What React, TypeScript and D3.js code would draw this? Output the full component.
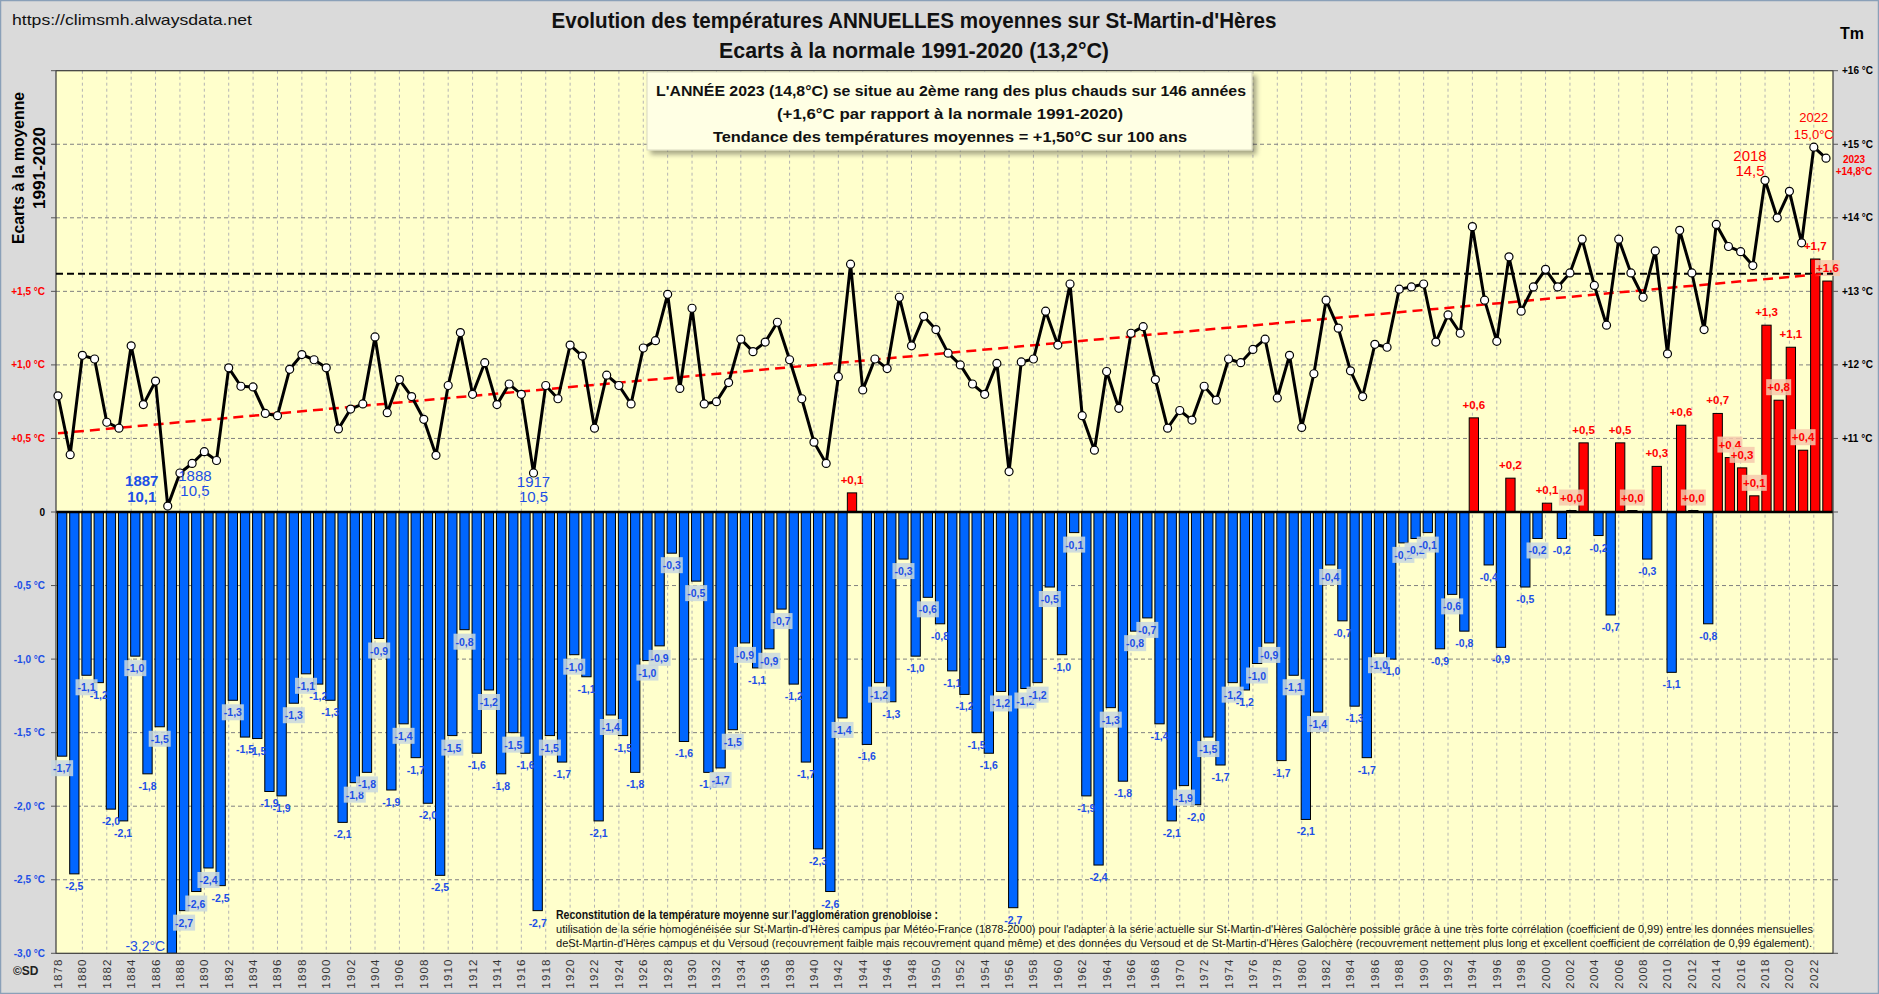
import React from "react";
import * as d3 from "d3";

// ---------- DATA ----------
const firstYear = 1878;
const anomalies: number[] = [
  -1.66, -2.46, -1.11, -1.16, -2.02, -2.10, -0.98, -1.78, -1.46, -3.16, // 1878-1887
  -2.71, -2.58, -2.42, -2.54, -1.28, -1.53, -1.54, -1.90, -1.93, -1.30, // 1888-1897
  -1.10, -1.17, -1.28, -2.11, -1.84, -1.77, -0.86, -1.89, -1.44, -1.67, // 1898-1907
  -1.98, -2.47, -1.52, -0.80, -1.64, -1.21, -1.78, -1.50, -1.64, -2.71, // 1908-1917
  -1.52, -1.70, -0.97, -1.12, -2.10, -1.38, -1.52, -1.77, -1.01, -0.91, // 1918-1927
  -0.28, -1.56, -0.47, -1.77, -1.74, -1.48, -0.89, -1.06, -0.93, -0.66, // 1928-1937
  -1.17, -1.70, -2.29, -2.58, -1.40, 0.13, -1.58, -1.16, -1.29, -0.32,  // 1938-1947
  -0.98, -0.58, -0.76, -1.08, -1.24, -1.50, -1.64, -1.22, -2.69, -1.20, // 1948-1957
  -1.16, -0.51, -0.97, -0.14, -1.93, -2.40, -1.33, -1.83, -0.81, -0.72, // 1958-1967
  -1.44, -2.10, -1.86, -1.99, -1.53, -1.72, -1.16, -1.21, -1.03, -0.89, // 1968-1977
  -1.69, -1.11, -2.09, -1.36, -0.36, -0.74, -1.32, -1.67, -0.96, -1.00, // 1978-1987
  -0.21, -0.18, -0.14, -0.93, -0.56, -0.81, 0.64, -0.36, -0.92, 0.23,   // 1988-1997
  -0.51, -0.18, 0.06, -0.18, 0.01, 0.47, -0.16, -0.70, 0.47, 0.01,      // 1998-2007
  -0.32, 0.31, -1.09, 0.59, 0.01, -0.76, 0.67, 0.37, 0.30, 0.11,        // 2008-2017
  1.27, 0.76, 1.12, 0.42, 1.72, 1.57                                    // 2018-2023
];
const years: number[] = anomalies.map((_, i) => firstYear + i);
const normal = 13.24; // normale 1991-2020
const trendEnds = [11.07, 13.24]; // trend line value in 1878 and 2023
const anomalyGrid = [-3, -2.5, -2, -1.5, -1, -0.5, 0, 0.5, 1, 1.5, 2, 2.5, 3];
const anomalyLabels = [-3, -2.5, -2, -1.5, -1, -0.5, 0, 0.5, 1, 1.5];
const tempLabels = [11, 12, 13, 14, 15, 16];
const highlightedYears = [1887, 1888, 1917, 2018, 2022, 2023];

// ---------- LAYOUT ----------
const W = 1879;
const H = 994;
const PL = 56, PR = 1833, PT = 70.7, PB = 953.3;
const BLUE = "#0066ff";
const BLUE_TXT = "#1d4fe6";
const RED = "#ff0000";
const SANS = "'Liberation Sans', Arial, sans-serif";
const NARROW = "'Liberation Sans Narrow', 'Arial Narrow', 'Liberation Sans', Arial, sans-serif";

const yA = d3.scaleLinear().domain([-3, 3]).range([PB, PT]);
const yT = d3.scaleLinear().domain([4, 16]).range([PB, PT]);
const xP = d3.scalePoint<number>().domain(years).range([58, 1826]);
const barW = 9.3;

const fmt1 = (v: number) => Math.abs(v).toFixed(1).replace(".", ",");
const fmtSigned = (v: number) => (v >= 0 ? "+" : "-") + fmt1(v);

export default function App() {
  const temps = anomalies.map((a) => normal + a);
  const pts = years.map((yr, i) => [xP(yr)!, yT(temps[i])] as [number, number]);
  const linePath = d3.line()(pts) || "";
  const zeroY = yA(0);

  const bars = years.map((yr, i) => {
    const a = anomalies[i];
    const pos = a >= 0;
    const x = (xP(yr) as number) + (pos ? -3.2 : -0.5);
    const yEnd = yA(Math.max(a, -3.0));
    const h = Math.max(Math.abs(yEnd - zeroY), pos ? 1.2 : 0);
    return { yr, a, pos, x, y: pos ? zeroY - h : zeroY, h, yEnd };
  });

  const labels = bars.map((b, i) => {
    const prev = i > 0 ? anomalies[i - 1] : null;
    const boxed =
      i === 0 ||
      Math.abs(b.a) < 0.05 ||
      (prev !== null && Math.sign(prev) === Math.sign(b.a) && Math.abs(prev) > Math.abs(b.a));
    const cx = b.x + barW / 2;
    const cy = b.pos ? b.y - 13 : b.yEnd + 12;
    return { ...b, boxed, cx, cy, text: fmtSigned(b.a) };
  });

  const evenYears = years.filter((y) => y % 2 === 0);

  const lineLabel = (yr: number) => {
    const i = yr - firstYear;
    return { x: xP(yr)!, y: yT(temps[i]), t: temps[i].toFixed(1).replace(".", ",") };
  };
  const hl = Object.fromEntries(highlightedYears.map((y) => [y, lineLabel(y)]));

  return (
    <svg
      width={W}
      height={H}
      viewBox={`0 0 ${W} ${H}`}
      style={{ position: "fixed", left: 0, top: 0, display: "block" }}
      fontFamily={SANS}
    >
      <defs>
        <clipPath id="plotClip">
          <rect x={PL} y={PT} width={PR - PL} height={PB - PT} />
        </clipPath>
        <filter id="shadow" x="-5%" y="-10%" width="115%" height="140%">
          <feDropShadow dx="4" dy="4" stdDeviation="2.5" floodColor="#000" floodOpacity="0.35" />
        </filter>
      </defs>

      {/* background */}
      <rect x={0} y={0} width={W} height={H} fill="#dadada" />
      <rect x={0.5} y={0.5} width={W - 1} height={H - 1} fill="none" stroke="#8aa0b8" strokeWidth={1.5} />
      <rect x={PL} y={PT} width={PR - PL} height={PB - PT} fill="#ffffcc" />

      {/* vertical grid */}
      {evenYears
        .filter((y) => y > firstYear)
        .map((y) => (
          <line key={"vg" + y} x1={xP(y)} x2={xP(y)} y1={PT} y2={PB} stroke="#b4b4b4" strokeWidth={1} strokeDasharray="3,3" />
        ))}
      {/* horizontal grid */}
      {anomalyGrid
        .filter((v) => v !== 0 && v !== 3 && v !== -3)
        .map((v) => (
          <line key={"hg" + v} x1={PL} x2={PR} y1={yA(v)} y2={yA(v)} stroke="#808080" strokeWidth={1} strokeDasharray="4,3" />
        ))}

      {/* bars */}
      <g clipPath="url(#plotClip)">
        {bars.map((b) => (
          <rect
            key={"b" + b.yr}
            x={b.x}
            y={b.y}
            width={barW}
            height={b.h}
            fill={b.pos ? RED : BLUE}
            stroke="#000"
            strokeWidth={1}
          />
        ))}
      </g>

      {/* zero line & frame */}
      <line x1={PL} x2={PR} y1={zeroY} y2={zeroY} stroke="#000" strokeWidth={2.5} />
      <rect x={PL} y={PT} width={PR - PL} height={PB - PT} fill="none" stroke="#3a3a3a" strokeWidth={1.2} />

      {/* axis ticks */}
      {anomalyGrid.map((v) => (
        <g key={"t" + v}>
          <line x1={PL - 5} x2={PL} y1={yA(v)} y2={yA(v)} stroke="#555" />
          <line x1={PR} x2={PR + 5} y1={yA(v)} y2={yA(v)} stroke="#555" />
        </g>
      ))}

      {/* bar labels */}
      {labels.map((l) => {
        if (l.a < -3) {
          return (
            <text key={"l" + l.yr} x={l.x - 2} y={PB - 2} textAnchor="end" fontSize={14} fill={BLUE_TXT}>
              {l.text}°C
            </text>
          );
        }
        const w = l.pos ? 25 : 22;
        return (
          <g key={"l" + l.yr}>
            {l.boxed && (
              <rect
                x={l.cx - w / 2}
                y={l.cy - 8}
                width={w}
                height={16}
                fill={l.pos ? "#f6c9ac" : "#c9d8de"}
                opacity={0.85}
              />
            )}
            <text
              x={l.cx}
              y={l.cy}
              textAnchor="middle"
              dominantBaseline="central"
              fontSize={l.pos ? 11.5 : 10.5}
              fontWeight="bold"
              fill={l.pos ? RED : BLUE_TXT}
            >
              {l.text}
            </text>
          </g>
        );
      })}

      {/* normal line */}
      <line x1={PL} x2={PR} y1={yT(normal)} y2={yT(normal)} stroke="#000" strokeWidth={2} strokeDasharray="7,4" />
      {/* trend line */}
      <line
        x1={xP(years[0])}
        x2={xP(years[years.length - 1])}
        y1={yT(trendEnds[0])}
        y2={yT(trendEnds[1])}
        stroke={RED}
        strokeWidth={2.5}
        strokeDasharray="10,6"
      />

      {/* temperature line */}
      <path d={linePath} fill="none" stroke="#000" strokeWidth={3} strokeLinejoin="round" />
      {pts.map((p, i) => (
        <circle key={"p" + i} cx={p[0]} cy={p[1]} r={4} fill="#fff" stroke="#000" strokeWidth={1.2} />
      ))}

      {/* line annotations */}
      <g fill={BLUE_TXT}>
        <text x={hl[1887].x - 26} y={hl[1887].y - 20} textAnchor="middle" fontSize={15} fontWeight="bold">1887</text>
        <text x={hl[1887].x - 26} y={hl[1887].y - 4} textAnchor="middle" fontSize={15} fontWeight="bold">{hl[1887].t}</text>
        <text x={hl[1888].x + 15} y={hl[1888].y + 8} textAnchor="middle" fontSize={15}>1888</text>
        <text x={hl[1888].x + 15} y={hl[1888].y + 23} textAnchor="middle" fontSize={15}>{hl[1888].t}</text>
        <text x={hl[1917].x} y={hl[1917].y + 14} textAnchor="middle" fontSize={15}>1917</text>
        <text x={hl[1917].x} y={hl[1917].y + 29} textAnchor="middle" fontSize={15}>{hl[1917].t}</text>
      </g>
      <g fill={RED}>
        <text x={hl[2018].x - 15} y={hl[2018].y - 19} textAnchor="middle" fontSize={15}>2018</text>
        <text x={hl[2018].x - 15} y={hl[2018].y - 4} textAnchor="middle" fontSize={15}>{hl[2018].t}</text>
        <text x={hl[2022].x} y={hl[2022].y - 25} textAnchor="middle" fontSize={13}>2022</text>
        <text x={hl[2022].x} y={hl[2022].y - 8} textAnchor="middle" fontSize={13}>{hl[2022].t}°C</text>
        <text x={1854} y={hl[2023].y + 5} textAnchor="middle" fontSize={10} fontWeight="bold">2023</text>
        <text x={1854} y={hl[2023].y + 17} textAnchor="middle" fontSize={10} fontWeight="bold">+{hl[2023].t}°C</text>
      </g>

      {/* left axis labels */}
      {anomalyLabels.map((v) => (
        <text
          key={"al" + v}
          x={45}
          y={yA(v)}
          textAnchor="end"
          dominantBaseline="central"
          fontSize={10}
          fontWeight="bold"
          fill={v > 0 ? RED : v < 0 ? BLUE_TXT : "#000"}
        >
          {v === 0 ? "0" : fmtSigned(v) + " °C"}
        </text>
      ))}
      {/* right axis labels */}
      {tempLabels.map((t) => (
        <text key={"tl" + t} x={1842} y={yT(t)} dominantBaseline="central" fontSize={10} fontWeight="bold" fill="#000">
          {"+" + t + " °C"}
        </text>
      ))}
      <text x={1852} y={39} textAnchor="middle" fontSize={16} fontWeight="bold" fontFamily={NARROW}>Tm</text>

      {/* year labels */}
      {evenYears.map((y) => (
        <text
          key={"yl" + y}
          transform={`translate(${xP(y)},${PB + 5}) rotate(-90)`}
          textAnchor="end"
          dominantBaseline="central"
          fontSize={11.5}
          letterSpacing={1.2}
          fill="#333"
        >
          {y}
        </text>
      ))}

      {/* titles */}
      <text x={12} y={25} fontSize={15} fill="#111" textLength={240} lengthAdjust="spacingAndGlyphs">https://climsmh.alwaysdata.net</text>
      <text x={914} y={28} textAnchor="middle" fontSize={22} fontWeight="bold" fontFamily={NARROW} fill="#111" textLength={725} lengthAdjust="spacingAndGlyphs">
        Evolution des températures ANNUELLES moyennes sur St-Martin-d'Hères
      </text>
      <text x={914} y={58} textAnchor="middle" fontSize={22} fontWeight="bold" fontFamily={NARROW} fill="#111" textLength={390} lengthAdjust="spacingAndGlyphs">
        Ecarts à la normale 1991-2020 (13,2°C)
      </text>
      <text transform="translate(24,168) rotate(-90)" textAnchor="middle" fontSize={16} fontWeight="bold" fontFamily={NARROW} textLength={152} lengthAdjust="spacingAndGlyphs">
        Ecarts à la moyenne
      </text>
      <text transform="translate(45,168) rotate(-90)" textAnchor="middle" fontSize={16} fontWeight="bold" fontFamily={NARROW} textLength={82} lengthAdjust="spacingAndGlyphs">
        1991-2020
      </text>
      <text x={13} y={975} fontSize={12} fontWeight="bold" fill="#222">©SD</text>

      {/* info box */}
      <rect x={647} y={72} width={605} height={78} fill="#ffffe4" stroke="#d8d8c0" strokeWidth={1} filter="url(#shadow)" />
      <g fontFamily={NARROW} fontWeight="bold" fontSize={15} fill="#111" textAnchor="middle">
        <text x={951} y={96} textLength={590} lengthAdjust="spacingAndGlyphs">
          L'ANNÉE 2023 (14,8°C) se situe au 2ème rang des plus chauds sur 146 années
        </text>
        <text x={950} y={119} textLength={346} lengthAdjust="spacingAndGlyphs">
          (+1,6°C par rapport à la normale 1991-2020)
        </text>
        <text x={950} y={142} textLength={474} lengthAdjust="spacingAndGlyphs">
          Tendance des températures moyennes = +1,50°C sur 100 ans
        </text>
      </g>

      {/* bottom note */}
      <g fontFamily={NARROW} fill="#111">
        <text x={556} y={919} fontSize={12} fontWeight="bold" textLength={382} lengthAdjust="spacingAndGlyphs">
          Reconstitution de la température moyenne sur l'agglomération grenobloise :
        </text>
        <text x={556} y={933} fontSize={11} textLength={1257} lengthAdjust="spacingAndGlyphs">
          utilisation de la série homogénéisée sur St-Martin-d'Hères campus par Météo-France (1878-2000) pour l'adapter à la série actuelle sur St-Martin-d'Hères Galochère possible grâce à une très forte corrélation (coefficient de 0,99) entre les données mensuelles
        </text>
        <text x={556} y={947} fontSize={11} textLength={1256} lengthAdjust="spacingAndGlyphs">
          deSt-Martin-d'Hères campus et du Versoud (recouvrement faible mais recouvrement quand même) et des données du Versoud et de St-Martin-d'Hères Galochère (recouvrement nettement plus long et excellent coefficient de corrélation de 0,99 également).
        </text>
      </g>
    </svg>
  );
}
